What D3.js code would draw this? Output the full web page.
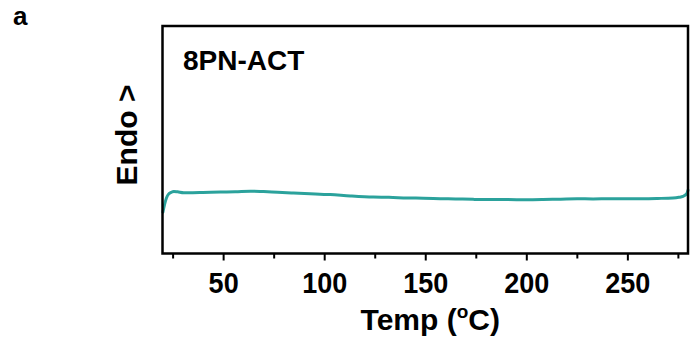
<!DOCTYPE html>
<html>
<head>
<meta charset="utf-8">
<script src="https://cdn.jsdelivr.net/npm/d3@7"></script>
<style>
  html, body { margin: 0; padding: 0; background: #fff; }
  svg { display: block; }
  text { font-family: "Liberation Sans", Arial, sans-serif; font-weight: bold; fill: #000; }
</style>
</head>
<body>
<svg id="chart" width="693" height="349"></svg>
<script>
// DSC trace of 8PN-ACT: temperature (°C) vs. heat flow (arbitrary units, endo up)
const temperature = [20.2, 21.0, 22.0, 23.1, 24.3, 25.6, 27.5, 30.5, 35, 40, 48.7, 56, 63.5, 70, 77,
  84.8, 93, 103, 113, 124.3, 132, 141.1, 149, 157.4, 165, 173.7, 182, 190.5, 200, 208.3,
  217, 225.1, 233, 241.5, 250, 257.8, 265, 272.6, 275.5, 277.5, 279.4, 280];
const heatFlow = [1.82, 2.15, 2.45, 2.62, 2.69, 2.73, 2.71, 2.67, 2.67, 2.68, 2.70, 2.71, 2.74, 2.72, 2.69,
  2.66, 2.63, 2.59, 2.53, 2.48, 2.47, 2.44, 2.43, 2.41, 2.40, 2.38, 2.37, 2.37, 2.36, 2.37,
  2.39, 2.41, 2.40, 2.41, 2.41, 2.41, 2.42, 2.44, 2.47, 2.51, 2.63, 2.78];
const majorTicks = [50, 100, 150, 200, 250];
const minorTicks = [25, 75, 125, 175, 225, 275];
const sampleName = "8PN-ACT";
const panelLabel = "a";
const xTitle = "Temp (";
const yTitle = "Endo >";

const svg = d3.select("#chart");
const plot = { left: 162.5, right: 688, top: 26, bottom: 253.5 };

const x = d3.scaleLinear().domain([20, 280]).range([plot.left, plot.right]);
const y = d3.scaleLinear().domain([0, 10]).range([plot.bottom, plot.top]);

// minor ticks (short, outward)
svg.append("g")
  .attr("transform", `translate(0,${plot.bottom})`)
  .call(d3.axisBottom(x).tickValues(minorTicks).tickSize(5).tickFormat(""))
  .call(g => g.select(".domain").remove())
  .call(g => g.selectAll("line").attr("stroke", "#000").attr("stroke-width", 2));

// major ticks with labels (glyphs slightly tall)
svg.append("g")
  .attr("transform", `translate(0,${plot.bottom})`)
  .call(d3.axisBottom(x).tickValues(majorTicks).tickSize(7).tickPadding(0).tickFormat(d3.format("d")))
  .call(g => g.select(".domain").remove())
  .call(g => g.selectAll("line").attr("stroke", "#000").attr("stroke-width", 2))
  .call(g => g.selectAll("text")
    .attr("font-size", 27)
    .attr("font-family", "'Liberation Sans', Arial, sans-serif")
    .attr("font-weight", "bold")
    .attr("fill", "#000")
    .attr("y", 0)
    .attr("dy", 0)
    .attr("transform", "translate(0,39.5) scale(1,1.1)"));

// trace
const line = d3.line()
  .x((d, i) => x(temperature[i]))
  .y(d => y(d))
  .curve(d3.curveMonotoneX);

svg.append("path")
  .datum(heatFlow)
  .attr("d", line)
  .attr("fill", "none")
  .attr("stroke", "#2ba29c")
  .attr("stroke-width", 3)
  .attr("stroke-linejoin", "round")
  .attr("stroke-linecap", "round");

// frame
svg.append("rect")
  .attr("x", plot.left)
  .attr("y", plot.top)
  .attr("width", plot.right - plot.left)
  .attr("height", plot.bottom - plot.top)
  .attr("fill", "none")
  .attr("stroke", "#000")
  .attr("stroke-width", 2.5);

// sample name inside the frame
svg.append("text")
  .attr("x", 183)
  .attr("y", 70)
  .attr("font-size", 28)
  .text(sampleName);

// panel letter
svg.append("text")
  .attr("x", 13)
  .attr("y", 25)
  .attr("font-size", 26)
  .text(panelLabel);

// x-axis title with superscript degree sign
const xt = svg.append("text")
  .attr("x", (plot.left + plot.right) / 2 + 5)
  .attr("y", 330)
  .attr("text-anchor", "middle")
  .attr("font-size", 30);
xt.append("tspan").text(xTitle);
xt.append("tspan").attr("font-size", 19).attr("dy", -12).text("o");
xt.append("tspan").attr("dy", 12).text("C)");

// y-axis title
svg.append("text")
  .attr("transform", `translate(137,${135}) rotate(-90)`)
  .attr("text-anchor", "middle")
  .attr("font-size", 30)
  .text(yTitle);
</script>
</body>
</html>
